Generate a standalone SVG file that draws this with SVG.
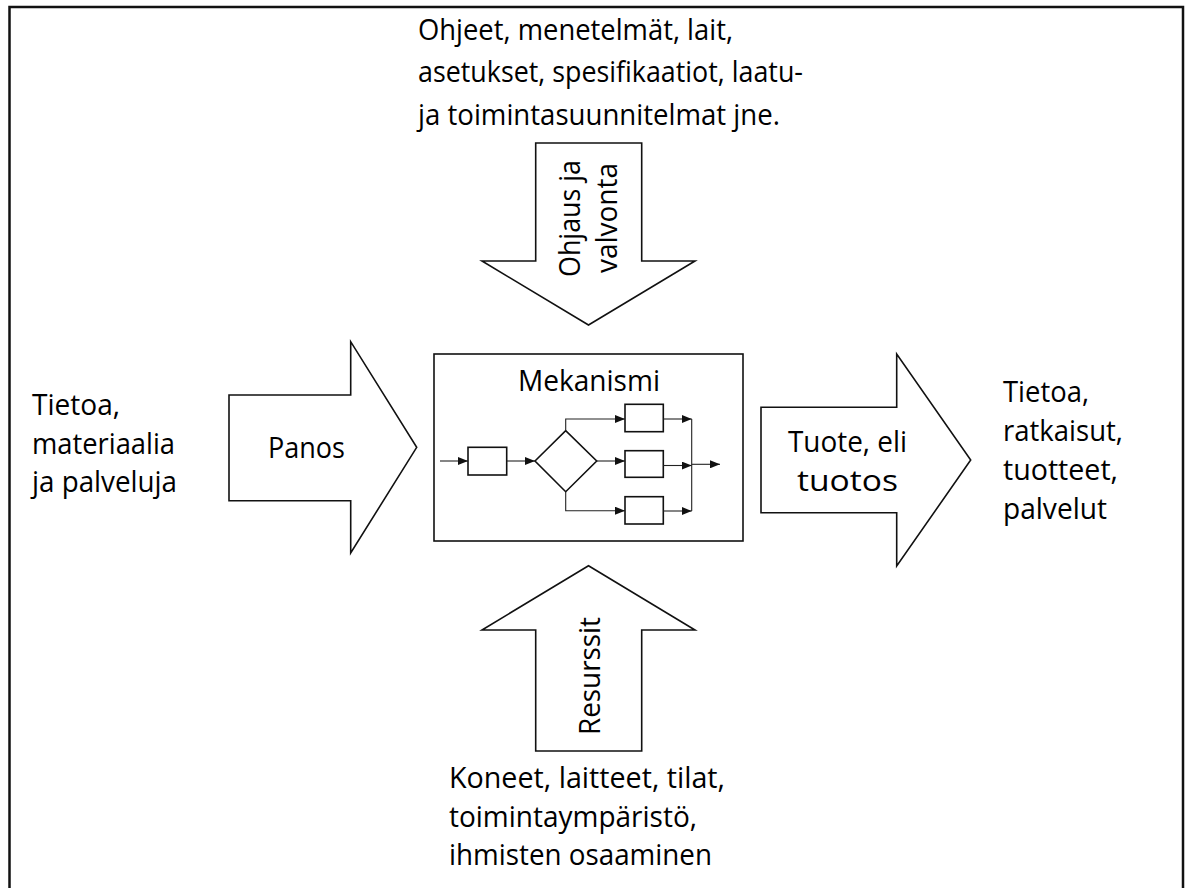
<svg xmlns="http://www.w3.org/2000/svg" width="1190" height="888" viewBox="0 0 1190 888">
<style>
text{font-family:"Open Sans",Lato,"Liberation Sans",sans-serif;font-size:29.5px;fill:#000}
.big{fill:#fff;stroke:#111;stroke-width:1.6;stroke-linejoin:miter}
.box{fill:#fff;stroke:#111;stroke-width:1.6}
.fl{fill:none;stroke:#222;stroke-width:1.1}
.fs{fill:#fff;stroke:#111;stroke-width:1.6}
</style>
<defs>
<marker id="ah" markerWidth="10" markerHeight="8" refX="10" refY="4" orient="auto" markerUnits="userSpaceOnUse">
<path d="M0,0 L10,4 L0,8 Z" fill="#111"/>
</marker>
</defs>
<rect width="1190" height="888" fill="#fff"/>
<rect id="frame" x="9.5" y="7" width="1173.5" height="920" fill="none" stroke="#111" stroke-width="2.5"/>

<g id="control">
<polygon class="big" points="535.7,143 641.7,143 641.7,261 695,261 588.5,325 482,261 535.7,261"/>
<text transform="translate(580,218.5) rotate(-90)" text-anchor="middle" textLength="117" lengthAdjust="spacingAndGlyphs">Ohjaus ja</text>
<text transform="translate(617,218) rotate(-90)" text-anchor="middle" textLength="110" lengthAdjust="spacingAndGlyphs">valvonta</text>
</g>
<g id="control-text">
<text x="418" y="39.5" textLength="315" lengthAdjust="spacingAndGlyphs">Ohjeet, menetelmät, lait,</text>
<text x="418" y="82" textLength="385" lengthAdjust="spacingAndGlyphs">asetukset, spesifikaatiot, laatu-</text>
<text x="418" y="124.5" textLength="362" lengthAdjust="spacingAndGlyphs">ja toimintasuunnitelmat jne.</text>
</g>

<g id="resources">
<polygon class="big" points="588.5,565.7 695,630 641.7,630 641.7,751 535.7,751 535.7,630 482,630"/>
<text transform="translate(599.5,676) rotate(-90)" text-anchor="middle" textLength="118" lengthAdjust="spacingAndGlyphs">Resurssit</text>
</g>
<g id="resources-text">
<text x="449" y="788" textLength="276" lengthAdjust="spacingAndGlyphs">Koneet, laitteet, tilat,</text>
<text x="449" y="826.5" textLength="248" lengthAdjust="spacingAndGlyphs">toimintaympäristö,</text>
<text x="449" y="865" textLength="263" lengthAdjust="spacingAndGlyphs">ihmisten osaaminen</text>
</g>

<g id="input">
<polygon class="big" points="229,395 350.7,395 350.7,341.7 416.7,447.3 350.7,553 350.7,500.7 229,500.7"/>
<text x="306.5" y="458" text-anchor="middle" textLength="77" lengthAdjust="spacingAndGlyphs">Panos</text>
</g>
<g id="input-text">
<text x="32" y="415" textLength="88" lengthAdjust="spacingAndGlyphs">Tietoa,</text>
<text x="32" y="453.5" textLength="143" lengthAdjust="spacingAndGlyphs">materiaalia</text>
<text x="32" y="492" textLength="145" lengthAdjust="spacingAndGlyphs">ja palveluja</text>
</g>

<g id="output">
<polygon class="big" points="761,407.3 896.7,407.3 896.7,354 970.7,460 896.7,566 896.7,512.7 761,512.7"/>
<text x="847.5" y="452" text-anchor="middle" textLength="119" lengthAdjust="spacingAndGlyphs">Tuote, eli</text>
<text x="847.5" y="490.5" text-anchor="middle" textLength="101" lengthAdjust="spacingAndGlyphs">tuotos</text>
</g>
<g id="output-text">
<text x="1003" y="401.5" textLength="86" lengthAdjust="spacingAndGlyphs">Tietoa,</text>
<text x="1003" y="441" textLength="120" lengthAdjust="spacingAndGlyphs">ratkaisut,</text>
<text x="1003" y="480" textLength="115" lengthAdjust="spacingAndGlyphs">tuotteet,</text>
<text x="1003" y="518.5" textLength="104" lengthAdjust="spacingAndGlyphs">palvelut</text>
</g>

<g id="mechanism">
<rect class="box" x="434" y="354" width="309" height="187"/>
<text x="589" y="391" text-anchor="middle" textLength="142" lengthAdjust="spacingAndGlyphs">Mekanismi</text>
<rect class="fs" x="468" y="447.3" width="38.7" height="27.7"/>
<polygon class="fs" points="535,461 565.7,430.7 596.7,461 565.7,491.7"/>
<rect class="fs" x="625" y="404.3" width="38.3" height="27.4"/>
<rect class="fs" x="625" y="450.7" width="38.3" height="26.6"/>
<rect class="fs" x="625" y="496.7" width="38.3" height="27.3"/>
</g>

<g id="connectors">
<line class="fl" x1="440" y1="461" x2="468" y2="461" marker-end="url(#ah)"/>
<line class="fl" x1="506.7" y1="461" x2="535" y2="461" marker-end="url(#ah)"/>
<polyline class="fl" points="565.7,430.7 565.7,419 625,419" marker-end="url(#ah)"/>
<line class="fl" x1="596.7" y1="461" x2="625" y2="461" marker-end="url(#ah)"/>
<polyline class="fl" points="565.7,491.7 565.7,510.7 625,510.7" marker-end="url(#ah)"/>
<line class="fl" x1="663.3" y1="419" x2="691.7" y2="419" marker-end="url(#ah)"/>
<line class="fl" x1="663.3" y1="465.5" x2="691.7" y2="465.5" marker-end="url(#ah)"/>
<line class="fl" x1="663.3" y1="511" x2="691.7" y2="511" marker-end="url(#ah)"/>
<line class="fl" x1="691.7" y1="419" x2="691.7" y2="511"/>
<line class="fl" x1="691.7" y1="464.3" x2="720" y2="464.3" marker-end="url(#ah)"/>
</g>
</svg>
